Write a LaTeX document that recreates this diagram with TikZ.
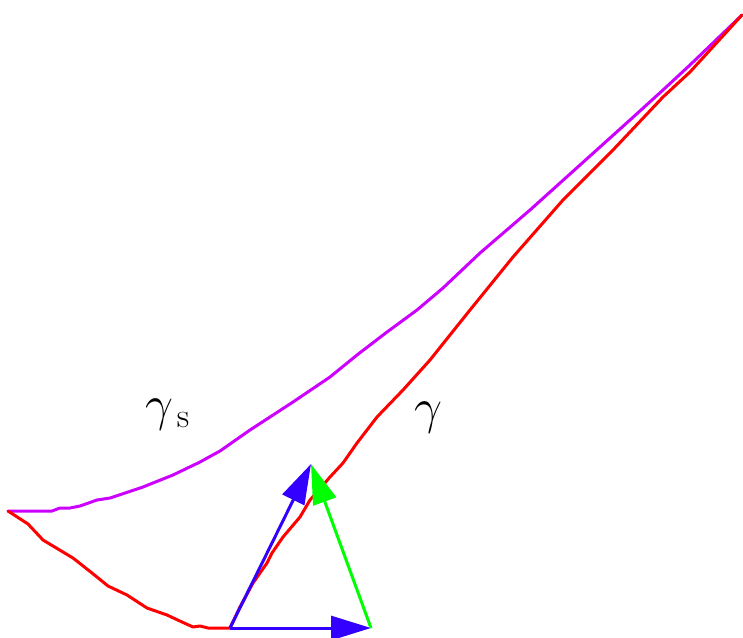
\documentclass[tikz,border=0pt]{standalone}
\usepackage{amsmath}
\usepackage{xcolor}
\usetikzlibrary{arrows.meta}
\definecolor{curvered}{RGB}{255,0,0}
\definecolor{curvepurple}{RGB}{204,0,255}
\definecolor{vecblue}{RGB}{51,0,255}
\definecolor{vecgreen}{RGB}{0,255,0}

\begin{document}
\begin{tikzpicture}[
    x=0.5pt, y=-0.5pt,
    curve/.style={line width=1.5pt, line join=round, line cap=round},
    vec/.style={line width=1.5pt, -{Triangle[length=20pt,width=12pt]}},
    lbl/.style={anchor=base, inner sep=0pt, font=\fontsize{23.5}{28}\selectfont}
]
\useasboundingbox (0,0) rectangle (743,637);

% Gemeinsame Punkte
\coordinate (start) at (8,511);
\coordinate (finish) at (742,15);
\coordinate (origin) at (230,628);
\coordinate (tip) at (311,464);
\coordinate (corner) at (371,628);

% Kurve gamma_s
\draw[curve, curvepurple] (start) -- (52,511) -- (60,508) -- (70,508) -- (80,506)
    -- (97,500) -- (110,498) -- (143,487) -- (173,475) -- (200,462) -- (220,451)
    -- (250,430) -- (270,417) -- (293,402) -- (330,377) -- (357,355) -- (387,332)
    -- (417,310) -- (443,288) -- (480,253) -- (530,210) -- (580,165) -- (630,120)
    -- (663,90) -- (690,65) -- (finish);

% Kurve gamma
\draw[curve, curvered] (start) -- (28,524) -- (43,540) -- (58,549) -- (73,558)
    -- (92,573) -- (108,586) -- (127,595) -- (147,608) -- (167,615) -- (182,622)
    -- (193,627) -- (200,626) -- (208,628) -- (origin) -- (240,607) -- (253,583)
    -- (267,563) -- (272,553) -- (283,537) -- (300,517) -- (310,500) -- (330,477)
    -- (343,463) -- (357,443) -- (377,417) -- (403,390) -- (430,360) -- (470,310)
    -- (513,257) -- (563,200) -- (613,150) -- (663,97) -- (690,72) -- (finish);

% Vektoren
\draw[vec, vecblue] (origin) -- (tip);
\draw[vec, vecblue] (origin) -- (corner);
\draw[vec, vecgreen] (corner) -- (tip);

% Beschriftung
\node[lbl] (gamma_s) at (168,420) {$\gamma_{\,\mathrm{s}}$};
\node[lbl] (gamma) at (428,423) {$\gamma$};

\end{tikzpicture}
\end{document}
